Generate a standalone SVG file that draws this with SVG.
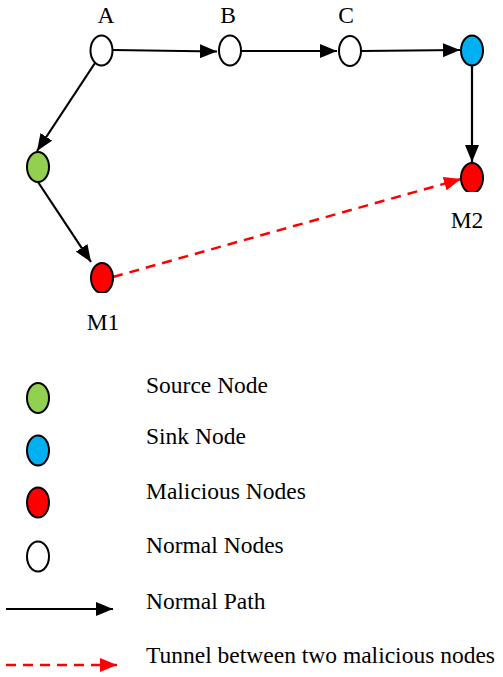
<svg xmlns="http://www.w3.org/2000/svg" width="503" height="677" viewBox="0 0 503 677">
<style>
.n{stroke:#000;stroke-width:2}
.w{fill:#fff}.g{fill:#92d050}.b{fill:#00b0f0}.r{fill:#ff0000}
.e{stroke:#000;stroke-width:2.2;fill:none}
.t{stroke:#ff0000;stroke-width:2.5;fill:none;stroke-dasharray:10,7}
text{font-family:"Liberation Serif","Times New Roman",serif;font-size:23.5px;fill:#000}
</style>
<defs>
<marker id="ah" markerUnits="userSpaceOnUse" markerWidth="18" markerHeight="14" refX="17" refY="7" orient="auto"><path d="M0,0 L17,7 L0,14 Z" fill="#000"/></marker>
<marker id="rh" markerUnits="userSpaceOnUse" markerWidth="18" markerHeight="14" refX="17" refY="7" orient="auto"><path d="M0,0 L17,7 L0,14 Z" fill="#ff0000"/></marker>
<clipPath id="c1"><rect x="0" y="0" width="503" height="293"/></clipPath>
<clipPath id="c2"><rect x="0" y="0" width="503" height="192"/></clipPath>
</defs>
<g id="edges">
<line class="e" x1="113" y1="50" x2="217" y2="51.5" marker-end="url(#ah)"/>
<line class="e" x1="242" y1="51" x2="337" y2="51" marker-end="url(#ah)"/>
<line class="e" x1="362" y1="51" x2="460" y2="50" marker-end="url(#ah)"/>
<line class="e" x1="472" y1="66" x2="472" y2="162" marker-end="url(#ah)"/>
<line class="e" x1="95" y1="63" x2="37" y2="151" marker-end="url(#ah)"/>
<line class="e" x1="38" y1="182" x2="91" y2="262" marker-end="url(#ah)"/>
<line class="t" x1="113" y1="277" x2="461" y2="179" marker-end="url(#rh)"/>
</g>
<g id="A"><ellipse class="n w" cx="101.5" cy="50.5" rx="11" ry="15"/><text x="106" y="23" text-anchor="middle">A</text></g>
<g id="B"><ellipse class="n w" cx="230" cy="50.5" rx="11" ry="15"/><text x="228" y="23" text-anchor="middle">B</text></g>
<g id="C"><ellipse class="n w" cx="350" cy="51" rx="11" ry="15"/><text x="346" y="23" text-anchor="middle">C</text></g>
<g id="Sink"><ellipse class="n b" cx="472" cy="50.5" rx="11" ry="15"/></g>
<g id="M2"><ellipse class="n r" cx="472" cy="178" rx="11" ry="15" clip-path="url(#c2)"/><text x="467" y="228" text-anchor="middle">M2</text></g>
<g id="Source"><ellipse class="n g" cx="38" cy="167" rx="11" ry="15"/></g>
<g id="M1"><ellipse class="n r" cx="102" cy="278" rx="11" ry="15" clip-path="url(#c1)"/><text x="103" y="330" text-anchor="middle">M1</text></g>
<g id="legend">
<ellipse class="n g" cx="38" cy="398" rx="11" ry="15"/><text x="146" y="393">Source Node</text>
<ellipse class="n b" cx="38" cy="450.5" rx="11" ry="15"/><text x="146" y="444">Sink Node</text>
<ellipse class="n r" cx="38" cy="502.5" rx="11" ry="15"/><text x="146" y="499">Malicious Nodes</text>
<ellipse class="n w" cx="38" cy="556.5" rx="11" ry="15"/><text x="146" y="553">Normal Nodes</text>
<line class="e" x1="6" y1="609" x2="113" y2="609" marker-end="url(#ah)"/><text x="146" y="609">Normal Path</text>
<line class="t" x1="6" y1="665" x2="117" y2="665" marker-end="url(#rh)"/><text x="146" y="663">Tunnel between two malicious nodes</text>
</g>
</svg>
